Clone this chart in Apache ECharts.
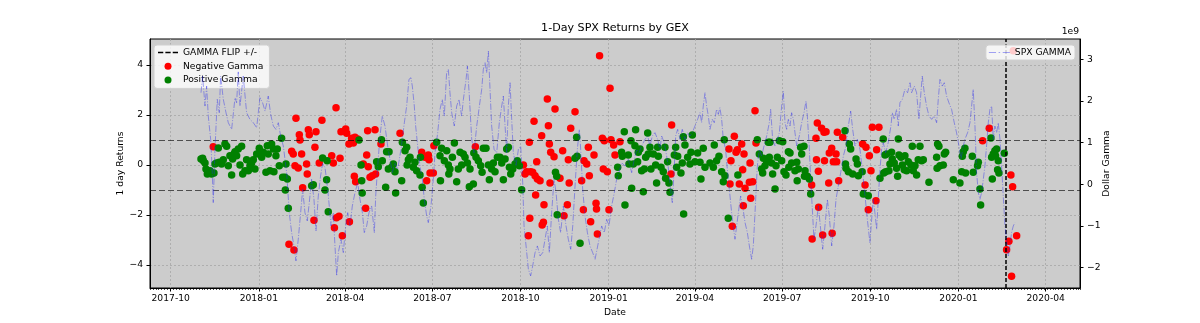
<!DOCTYPE html>
<html><head><meta charset="utf-8">
<script src="https://cdn.jsdelivr.net/npm/echarts@6/dist/echarts.min.js"></script>
<style>html,body{margin:0;padding:0;background:#fff}#c{width:1200px;height:323px}</style>
</head><body><div id="c"></div>
<script>
// ---------------- DATA ----------------
// x values are days counted from BASE_DATE (2017-10-01)
const BASE_DATE = '2017-10-01';
const GAMMA_FLIP_DATE = '2020-02-19';
const FLIP_LEVELS = [1, -1];
const X_TICK_LABELS = ['2017-10','2018-01','2018-04','2018-07','2018-10','2019-01','2019-04','2019-07','2019-10','2020-01','2020-04'];
const LEFT_TICKS = [-4, -2, 0, 2, 4];
const RIGHT_TICKS = [-2, -1, 0, 1, 2, 3];

// Negative Gamma days: [day, 1-day return %]
const negativeGamma = [
[44.4,0.73],[123.4,-3.17],[126.2,0.55],[127.9,0.44],[128.6,-3.40],[129.7,-0.03],[130.7,1.87],[133.1,-0.12],[134.2,1.21],[134.9,1.0],
[136.6,0.44],[137.7,-0.91],[141.8,0.04],[142.5,-0.36],[143.6,1.41],[144.6,1.21],[149.5,-2.21],[150.5,0.71],[151.6,1.33],[155.0,0.08],
[157.8,1.79],[168.0,0.37],[169.7,0.08],[170.8,-2.51],[172.5,2.29],[173.0,-2.11],[175.6,-2.05],[176.7,0.27],[177.7,1.33],[179.1,-2.83],
[182.6,1.44],[183.6,1.27],[186.0,0.84],[186.5,-2.27],[188.8,1.07],[190.6,0.88],[191.6,-0.45],[192.3,1.11],[193.0,-0.67],[195.1,1.04],
[201.0,0.04],[203.4,-1.73],[204.5,0.40],[205.5,1.37],[206.2,-0.07],[208.0,-0.49],[210.4,-0.43],[213.2,1.41],[213.8,-0.36],[219.4,0.84],
[239.3,1.27],[261.9,0.51],[265.3,0.31],[267.1,-0.63],[268.8,0.40],[269.5,0.21],[270.6,-0.32],[274.0,-0.32],[274.6,0.77],[317.9,0.73],
[368.0,0.0],[369.7,-0.36],[371.5,-0.27],[373.2,-2.83],[374.2,0.91],[374.7,-2.13],[375.4,-0.27],[377.7,-0.29],[379.1,1.75],[380.2,-0.43],
[380.8,-1.2],[381.9,0.13],[382.6,-0.56],[385.4,-0.63],[387.1,1.17],[387.6,-2.4],[388.9,-2.29],[389.5,-1.59],[393.0,2.64],[394.1,1.57],
[395.1,0.84],[395.8,-0.72],[396.5,0.51],[400.0,0.33],[401.0,2.24],[406.2,-0.53],[409.0,0.57],[410.4,-2.03],[413.9,-1.59],[414.9,0.21],
[415.8,-0.72],[417.4,1.47],[421.9,2.13],[428.8,-0.63],[430.6,-1.79],[431.3,0.17],[434.1,0.04],[435.8,0.71],[436.8,-0.43],[438.2,-2.27],
[441.7,0.40],[443.8,-1.53],[444.3,-1.76],[445.2,-2.76],[447.5,4.37],[450.4,1.07],[451.4,-0.16],[452.4,0.97],[455.6,-0.27],[457.3,-1.79],
[458.4,3.07],[459.4,1.01],[462.2,0.80],[463.6,0.40],[468.8,0.93],[522.0,-0.36],[522.7,1.60],[582.5,0.64],[583.6,-0.76],[584.6,0.17],
[586.0,-2.45],[588.1,1.15],[589.9,0.51],[591.3,0.61],[593.3,-0.76],[595.8,0.84],[596.8,-0.19],[597.5,-1.63],[598.2,0.44],[599.3,-0.93],
[603.8,-0.69],[604.5,0.08],[605.2,-1.33],[607.3,-0.67],[609.7,2.17],[610.7,0.88],[668.8,-0.80],[669.3,-2.96],[673.3,1.07],[673.8,0.21],
[674.7,1.68],[675.8,-0.25],[676.1,-1.69],[679.2,1.47],[680.3,-2.80],[681.7,1.31],[682.2,0.17],[683.8,1.33],[686.6,-0.72],[687.2,0.48],
[689.7,0.67],[690.2,-2.73],[691.4,0.13],[694.2,0.44],[694.9,0.13],[695.6,1.31],[697.0,-0.63],[701.2,1.11],[722.0,0.84],[724.5,-0.80],
[725.5,0.71],[727.9,-1.79],[729.0,0.37],[730.7,-0.23],[732.1,1.51],[735.9,-1.43],[736.6,0.61],[739.0,1.51],[847.2,0.97],[854.1,1.47],
[872.2,-3.39],[874.6,-3.05],[876.7,-0.40],[877.4,-4.45],[878.5,-0.87],[879.2,4.57],[882.7,-2.83]
];

// Positive Gamma days: [day, 1-day return %]
const positiveGamma = [
[31.6,0.24],[33.3,0.27],[34.0,0.17],[35.8,0.08],[36.8,-0.16],[38.2,-0.36],[39.6,-0.29],[41.0,-0.23],[42.7,-0.36],[45.1,-0.32],
[46.2,0.04],[47.9,0.08],[49.7,0.68],[50.7,0.11],[53.1,0.04],[54.9,0.21],[56.6,0.84],[58.4,0.75],[60.1,-0.03],[61.8,0.37],
[63.6,-0.40],[64.6,0.24],[66.0,0.44],[67.1,0.53],[68.8,0.37],[70.5,0.64],[72.3,0.0],[74.0,0.75],[75.1,-0.36],[77.5,-0.23],
[79.2,0.21],[81.0,-0.23],[82.7,-0.03],[84.4,0.08],[86.2,0.21],[87.9,-0.16],[89.7,0.44],[92.4,0.67],[94.9,0.31],[96.6,0.51],
[99.4,-0.29],[100.8,0.77],[101.8,0.44],[103.6,-0.23],[105.3,0.84],[107.1,0.64],[107.7,-0.27],[109.8,0.37],[111.2,0.64],[113.3,-0.03],
[115.7,1.07],[116.8,-0.49],[119.2,-0.49],[119.6,-1.0],[120.3,0.04],[121.7,-0.56],[122.7,-1.73],[147.1,-0.83],[148.8,-0.79],[158.5,0.28],
[161.0,-1.0],[162.7,-0.59],[163.2,0.17],[164.4,-1.87],[196.5,1.0],[198.6,0.0],[199.3,-0.63],[199.8,-1.12],[214.9,0.13],[216.6,-0.07],
[219.9,1.01],[220.8,0.17],[224.3,-0.89],[225.3,0.53],[227.1,-0.16],[227.8,0.53],[230.6,-0.09],[232.3,0.04],[234.0,-0.27],[234.7,-1.12],
[241.0,-0.63],[241.7,0.91],[244.5,0.57],[246.2,0.71],[246.7,0.0],[248.0,0.21],[249.7,0.31],[253.2,-0.09],[254.9,0.11],[256.6,-0.23],
[260.1,-0.40],[260.6,0.31],[262.4,-0.89],[263.6,-1.52],[277.5,0.91],[281.0,0.37],[281.5,-0.63],[282.7,0.67],[285.5,0.17],[288.0,0.57],
[289.7,0.0],[290.2,-0.36],[291.4,-0.16],[293.9,0.31],[296.0,0.88],[298.4,-0.67],[300.1,-0.16],[301.9,0.51],[303.6,0.0],[305.3,0.44],
[307.1,0.31],[309.6,0.08],[311.6,-0.87],[312.3,-0.16],[315.8,-0.76],[316.3,0.48],[318.6,0.31],[321.0,0.17],[323.5,-0.03],[324.9,-0.29],
[326.2,0.67],[329.0,0.67],[331.5,0.0],[332.5,-0.59],[334.9,-0.16],[336.7,0.08],[338.4,-0.27],[340.9,0.31],[343.6,0.31],[345.4,0.08],
[347.1,-0.59],[348.9,0.24],[350.6,0.64],[352.3,0.71],[353.4,-0.09],[354.8,-0.36],[356.9,-0.16],[359.3,0.04],[361.7,0.17],[363.8,-0.03],
[366.2,-0.99],[401.5,-0.29],[402.8,-0.45],[403.3,-1.99],[421.9,0.27],[423.6,1.11],[424.1,0.35],[427.1,-3.13],[466.4,-0.09],[467.0,-0.43],
[470.5,0.51],[471.2,0.35],[473.3,1.33],[474.0,-1.60],[477.5,0.40],[478.2,0.04],[480.3,0.97],[481.0,-0.93],[482.7,0.04],[484.4,0.77],
[485.1,1.41],[487.2,0.13],[487.9,0.51],[489.7,0.64],[491.4,-0.23],[493.1,-1.07],[494.2,-0.16],[495.6,0.31],[497.7,1.28],[498.3,0.44],
[500.1,0.71],[501.1,-0.16],[503.6,0.44],[506.0,0.0],[507.0,-0.72],[508.1,0.71],[508.8,0.35],[511.6,-0.09],[514.0,-0.27],[515.7,0.71],
[516.4,-0.53],[518.5,0.13],[519.9,-0.72],[521.0,-1.09],[525.5,0.40],[526.9,0.71],[527.9,-0.09],[529.0,0.35],[532.4,-0.32],[533.8,0.08],
[534.9,1.13],[535.2,-1.96],[536.6,0.80],[539.4,0.31],[541.8,0.04],[542.9,0.51],[544.3,1.20],[547.0,0.13],[549.8,0.48],[552.3,0.11],
[553.3,-0.56],[555.7,0.67],[557.5,-0.09],[562.7,0.08],[566.2,-0.09],[567.2,0.80],[569.6,0.17],[572.1,0.35],[574.9,-0.27],[576.6,-0.67],
[577.6,1.01],[578.3,-0.43],[581.8,-2.13],[591.8,-0.40],[612.1,1.01],[614.2,0.44],[616.6,-0.16],[617.7,-0.32],[618.4,0.27],[620.1,-0.03],
[621.9,0.13],[623.6,0.91],[624.6,0.31],[625.3,0.91],[627.1,0.08],[628.1,-0.36],[630.6,-0.96],[631.6,-0.03],[633.0,0.31],[635.1,0.97],
[637.5,0.17],[638.6,0.93],[639.9,-0.27],[642.0,-0.40],[644.5,0.53],[645.0,-0.09],[646.2,0.48],[647.9,0.08],[651.4,-0.23],[653.2,0.11],
[653.7,-0.63],[654.9,-0.16],[657.3,0.71],[658.4,0.44],[660.8,0.75],[661.3,-0.45],[661.9,-0.23],[664.3,-0.45],[666.4,-0.56],[667.8,-1.16],
[703.6,1.37],[704.1,0.04],[704.6,-0.13],[707.1,-0.27],[708.1,0.84],[709.5,0.64],[711.6,-0.36],[715.1,0.24],[716.5,0.04],[717.5,-0.43],
[721.5,-0.27],[722.7,-1.16],[727.9,-1.23],[740.1,-0.53],[743.5,1.04],[744.0,-0.32],[745.3,0.40],[746.0,-0.27],[747.0,0.44],[749.4,-0.23],
[750.5,0.04],[752.2,0.51],[752.9,0.24],[755.0,0.08],[757.4,-0.13],[758.5,-0.45],[759.2,1.04],[759.9,0.40],[762.0,0.31],[763.4,0.0],
[765.4,-0.19],[766.1,0.37],[767.9,-0.23],[769.6,0.13],[772.4,0.0],[773.8,0.75],[774.8,-0.23],[776.6,-0.03],[778.3,-0.40],[780.0,0.21],
[781.8,0.75],[783.5,0.17],[785.3,0.21],[791.2,-0.69],[799.2,0.31],[799.7,-0.13],[800.2,0.84],[801.6,0.75],[802.7,-0.03],[806.1,0.0],
[807.2,0.44],[808.6,0.51],[816.6,-0.59],[823.5,-0.72],[825.3,-0.27],[826.0,0.35],[827.0,0.53],[828.7,0.67],[829.4,-0.32],[836.4,0.35],
[837.4,-0.29],[841.9,-0.03],[842.7,0.11],[844.4,-0.96],[845.1,-1.60],[855.9,1.08],[856.6,0.31],[857.3,-0.56],[858.3,0.44],[860.0,0.57],
[860.7,0.37],[861.8,0.64],[862.8,-0.19],[863.5,0.17],[864.2,-0.32],[869.8,0.47]
];

// SPX GAMMA: [day, dollar gamma in units of 1e9]
const spxGamma = [
[31.6,2.2],[33.3,2.6],[35.8,1.88],[37.5,2.36],[39.2,1.64],[41.7,1.08],[43.1,0.44],[44.4,-0.44],[46.2,0.84],[48.6,2.04],
[50.7,1.72],[52.1,2.6],[54.9,2.04],[57.7,1.72],[60.1,1.48],[63.6,1.32],[67.1,2.08],[68.8,1.96],[70.5,2.7],[72.3,1.88],
[75.7,2.6],[79.2,1.72],[82.7,1.56],[86.2,1.48],[89.7,1.36],[93.1,2.08],[95.9,1.96],[98.4,1.76],[101.8,2.12],[104.3,1.68],
[107.1,1.4],[109.8,1.32],[112.3,1.48],[114.7,1.16],[117.5,0.92],[121.0,0.28],[123.7,-0.68],[126.2,-1.16],[128.6,-1.48],[130.7,-1.84],
[133.1,-1.32],[135.6,-0.68],[137.7,-0.12],[140.1,-0.68],[142.5,-0.88],[144.6,-0.44],[147.0,0.12],[149.5,-0.36],[151.6,-1.12],[154.0,-0.28],
[156.4,0.2],[158.5,0.5],[161.0,0.4],[162.7,0.1],[164.5,-0.28],[167.3,-1.0],[169.7,-0.68],[171.4,-1.48],[173.2,-2.2],[174.9,-1.64],
[177.7,-1.32],[180.1,-1.64],[182.6,-1.0],[184.7,-0.68],[187.1,-1.0],[189.5,-0.52],[192.3,-0.2],[195.1,0.04],[197.5,-0.36],[200.0,-0.68],
[202.0,-1.16],[204.5,-1.0],[206.9,-0.68],[209.7,-0.52],[212.5,-1.16],[213.9,-0.28],[216.0,0.44],[218.4,1.16],[220.8,1.64],[223.6,1.4],
[226.4,0.92],[228.8,0.6],[231.3,0.28],[234.0,0.52],[236.8,0.36],[240.3,0.84],[243.8,1.48],[246.2,1.88],[248.6,2.52],[250.7,2.56],
[252.1,2.36],[254.2,1.88],[255.6,1.4],[257.7,0.92],[260.1,0.44],[262.6,0.12],[264.6,-0.36],[267.1,-0.76],[268.8,-0.92],[271.6,-0.52],
[274.0,0.12],[275.8,0.76],[278.6,1.24],[281.0,1.8],[283.4,2.04],[285.5,1.64],[287.9,2.68],[289.7,2.76],[291.4,2.2],[293.2,1.72],
[295.9,1.4],[298.4,1.88],[300.8,2.04],[303.6,1.64],[305.4,2.04],[308.2,2.52],[309.6,2.84],[311.6,2.12],[314.1,1.08],[316.5,0.76],
[319.3,1.4],[322.1,1.88],[324.5,2.28],[326.2,2.76],[328.0,2.92],[329.7,2.68],[331.5,3.2],[333.2,2.28],[334.9,1.4],[337.4,0.84],
[340.2,0.76],[342.9,1.48],[345.4,1.88],[347.1,2.12],[348.9,1.4],[350.6,0.76],[352.3,1.88],[354.1,2.44],[355.8,1.56],[357.5,0.76],
[360.3,0.44],[362.8,0.84],[365.2,0.92],[367.3,0.04],[368.7,-1.0],[370.8,-1.48],[373.2,-2.04],[375.6,-2.2],[377.7,-1.96],[380.2,-1.64],
[382.6,-1.48],[385.4,-1.72],[388.2,-1.64],[390.6,-1.32],[393.0,-1.0],[395.1,-1.64],[397.5,-0.68],[400.0,0.12],[402.1,-0.2],[404.5,-0.84],
[406.9,-1.16],[409.7,-0.52],[412.5,-1.0],[414.9,-1.32],[417.4,-1.56],[419.5,-1.0],[421.9,-0.04],[424.3,0.84],[426.4,1.32],[427.8,0.84],
[429.9,-0.12],[432.3,-0.76],[434.8,-1.16],[437.5,-1.48],[440.3,-1.64],[442.8,-1.8],[446.9,-1.32],[449.7,-1.0],[452.4,-1.16],[454.9,-0.84],
[457.3,-1.0],[460.1,-0.52],[462.9,-0.2],[465.3,0.12],[467.7,0.28],[470.5,0.52],[474.0,0.44],[477.5,0.6],[481.0,0.28],[483.7,0.6],
[486.2,0.84],[488.6,0.76],[491.4,0.92],[494.9,1.08],[497.7,1.16],[500.1,0.92],[502.5,1.16],[505.3,1.24],[508.1,1.08],[510.5,0.84],
[512.3,1.16],[515.0,1.0],[517.5,0.68],[519.9,0.28],[522.0,-0.2],[523.4,-0.44],[525.5,0.44],[526.9,1.16],[529.0,1.32],[531.4,1.08],
[533.8,1.32],[536.6,1.08],[539.4,1.24],[541.8,1.16],[544.3,1.24],[547.0,1.4],[549.8,1.56],[552.3,1.72],[554.0,1.48],[555.7,1.88],
[557.5,2.2],[559.2,1.88],[561.0,1.64],[562.7,1.32],[565.1,1.56],[567.2,1.48],[569.6,1.8],[571.4,1.68],[573.1,1.84],[574.9,1.56],
[576.6,1.08],[579.0,0.84],[581.1,0.28],[583.6,-0.28],[585.3,-0.68],[587.0,-1.0],[588.8,-1.32],[592.3,-0.68],[594.7,-0.28],[596.8,-0.52],
[599.3,-0.92],[601.7,-1.16],[603.8,-1.48],[606.2,-1.8],[607.9,-1.48],[609.7,-0.68],[612.1,0.44],[614.2,0.84],[616.6,0.68],[619.1,0.92],
[621.9,1.16],[624.6,1.48],[626.0,1.8],[628.1,1.08],[630.6,0.92],[633.0,1.08],[635.1,1.24],[637.5,1.88],[639.2,2.24],[641.0,1.48],
[642.7,1.32],[644.5,1.56],[646.2,1.4],[647.9,1.72],[649.7,1.56],[651.4,1.24],[653.2,0.92],[655.9,1.16],[658.4,1.48],[660.8,1.72],
[662.9,2.0],[664.3,1.64],[666.4,0.84],[667.8,0.12],[669.9,-0.76],[671.2,-1.32],[673.3,-1.0],[675.8,-0.52],[678.2,-1.08],[680.3,-1.56],
[682.7,-1.0],[685.2,-0.36],[687.2,-0.76],[689.7,-1.48],[692.1,-1.0],[694.2,-0.36],[696.6,-0.04],[699.1,0.28],[701.9,0.68],[704.6,0.92],
[707.1,1.4],[709.5,1.76],[711.6,1.32],[714.0,0.92],[716.5,1.08],[719.2,0.84],[722.0,0.28],[724.5,-0.28],[726.9,-0.84],[729.6,-1.4],
[731.4,-0.84],[733.1,-0.36],[734.8,-0.68],[736.6,-1.08],[738.3,-0.36],[740.1,0.36],[741.8,0.84],[743.5,1.0],[746.0,0.76],[748.7,1.0],
[751.5,1.4],[752.9,1.72],[755.0,1.56],[757.4,1.8],[759.2,1.4],[760.9,1.96],[763.4,2.04],[766.1,2.28],[768.9,2.2],[771.4,2.44],
[773.1,2.2],[775.9,2.36],[778.3,2.2],[780.7,1.56],[782.8,2.2],[784.2,2.6],[786.3,2.2],[788.7,1.88],[791.2,1.64],[794.0,1.56],
[796.7,1.64],[799.2,1.48],[800.9,2.04],[802.7,2.52],[805.1,2.36],[807.2,2.44],[809.6,2.12],[812.0,1.96],[814.8,1.8],[817.6,1.48],
[820.0,1.24],[822.5,0.92],[824.6,0.6],[827.0,0.92],[828.7,1.08],[831.5,1.24],[834.0,1.48],[835.7,1.88],[837.4,2.28],[839.2,1.4],
[840.9,0.28],[842.7,-0.2],[844.4,-0.36],[846.1,-0.2],[847.9,0.12],[849.6,0.44],[851.3,0.92],[853.1,1.48],[854.8,1.8],[856.6,1.88],
[858.3,1.08],[860.0,1.4],[861.8,1.24],[863.5,1.48],[865.3,1.08],[867.0,0.44],[868.7,-0.28],[870.5,-1.0],[872.2,-1.32],[874.0,-1.72],
[875.7,-1.48],[877.4,-1.16],[879.2,-1.0],[880.9,-0.92]
];

// ---------------- CHART ----------------
const DAY = 86400000;
const parseDate = s => { const p = s.split('-').map(Number); return new Date(p[0], p[1] - 1, p[2] || 1).getTime(); };
const BASE = parseDate(BASE_DATE);
const toT = d => BASE + d * DAY;
const toPts = arr => arr.map(p => [toT(p[0]), p[1]]);
const xTicks = X_TICK_LABELS.map(parseDate);
const fmtMonth = v => { const d = new Date(v); return d.getFullYear() + '-' + String(d.getMonth() + 1).padStart(2, '0'); };
const fmtNum = v => (v < 0 ? '\u2212' + (-v) : String(v));

const FONT = 'DejaVu Sans';
const FS = 9.2;
const xMin = toT(-21.6), xMax = toT(948.8);
const gridLine = { show: true, lineStyle: { color: '#a6a6a6', width: 0.8, type: [2, 2] } };

const chart = echarts.init(document.getElementById('c'), null, { renderer: 'canvas' });
chart.setOption({
  animation: false,
  textStyle: { fontFamily: FONT },
  grid: { left: 150, right: 120, top: 39, bottom: 35, show: true, backgroundColor: '#cccccc', borderColor: '#000', borderWidth: 1, z: 0 },
  graphic: [
    { type: 'text', x: 615, y: 28, z: 10, style: { text: '1-Day SPX Returns by GEX', align: 'center', verticalAlign: 'middle', fontSize: 11.1, fontFamily: FONT, fill: '#000' } },
    { type: 'text', x: 1079, y: 32, z: 10, style: { text: '1e9', align: 'right', verticalAlign: 'middle', fontSize: FS, fontFamily: FONT, fill: '#000' } }
  ],
  legend: [
    {
      z: 4, left: 154, top: 45, orient: 'vertical',
      padding: [2, 6, 3, 4], itemGap: 2.7, itemWidth: 20, itemHeight: 7,
      backgroundColor: 'rgba(255,255,255,0.8)', borderColor: '#d0d0d0', borderWidth: 1, borderRadius: 3,
      textStyle: { fontSize: FS, fontFamily: FONT, color: '#000', lineHeight: 11 },
      data: [
        { name: 'GAMMA FLIP +/-', icon: 'path://M0,0h5v1.5h-5zM7,0h5v1.5h-5zM14,0h5v1.5h-5z' },
        { name: 'Negative Gamma', icon: 'circle' },
        { name: 'Positive Gamma', icon: 'circle' }
      ]
    },
    {
      z: 6, right: 125, top: 45, orient: 'vertical',
      padding: [2, 4, 2, 3], itemWidth: 21, itemHeight: 7,
      backgroundColor: 'rgba(255,255,255,0.8)', borderColor: '#d0d0d0', borderWidth: 1, borderRadius: 3,
      textStyle: { fontSize: FS, fontFamily: FONT, color: '#000', lineHeight: 11 },
      data: [{ name: 'SPX GAMMA', icon: 'path://M0,0h7v1.2h-7zM9.5,0h1.5v1.2h-1.5zM13.5,0h7v1.2h-7z' }]
    }
  ],
  xAxis: [
    {
      type: 'value', min: xMin, max: xMax, position: 'bottom', scale: true,
      name: 'Date', nameLocation: 'middle', nameGap: 20, nameMoveOverlap: false,
      nameTextStyle: { fontSize: FS, fontFamily: FONT, color: '#000' },
      axisLine: { show: true, onZero: false, lineStyle: { color: '#000', width: 1 } },
      axisTick: { show: true, customValues: xTicks, length: 3.5, lineStyle: { color: '#000', width: 1 } },
      axisLabel: { customValues: xTicks, formatter: fmtMonth, fontSize: FS, fontFamily: FONT, color: '#000', margin: 6 },
      splitLine: gridLine
    },
    {
      type: 'value', min: xMin, max: xMax, position: 'bottom', interval: 3 * DAY, scale: true,
      axisLine: { show: false, onZero: false }, axisLabel: { show: false }, splitLine: { show: false },
      axisTick: { show: true, length: 2, lineStyle: { color: 'rgba(0,0,0,0.7)', width: 1 } }
    }
  ],
  yAxis: [
    {
      type: 'value', position: 'left', min: -4.92, max: 5.04,
      name: '1 day Returns', nameLocation: 'middle', nameRotate: 90, nameGap: 25, nameMoveOverlap: false,
      nameTextStyle: { fontSize: FS, fontFamily: FONT, color: '#000' },
      axisLine: { show: true, onZero: false, lineStyle: { color: '#000', width: 1 } },
      axisTick: { show: true, customValues: LEFT_TICKS, length: 3.5, lineStyle: { color: '#000' } },
      axisLabel: { customValues: LEFT_TICKS, formatter: fmtNum, fontSize: FS, fontFamily: FONT, color: '#000', margin: 7 },
      splitLine: gridLine
    },
    {
      type: 'value', position: 'right', min: -2.49, max: 3.49,
      name: 'Dollar Gamma', nameLocation: 'middle', nameRotate: 90, nameGap: 22, nameMoveOverlap: false,
      nameTextStyle: { fontSize: FS, fontFamily: FONT, color: '#000' },
      axisLine: { show: true, onZero: false, lineStyle: { color: '#000', width: 1 } },
      axisTick: { show: true, customValues: RIGHT_TICKS, length: 3.5, lineStyle: { color: '#000' } },
      axisLabel: { customValues: RIGHT_TICKS, formatter: fmtNum, fontSize: FS, fontFamily: FONT, color: '#000', margin: 7 },
      splitLine: { show: false }
    }
  ],
  series: [
    {
      name: 'GAMMA FLIP +/-', type: 'line', data: [], z: 2, silent: true,
      itemStyle: { color: '#000' }, lineStyle: { color: '#000', type: 'dashed' },
      markLine: {
        silent: true, symbol: 'none', label: { show: false },
        data: FLIP_LEVELS.map(v => ({ yAxis: v, lineStyle: { color: 'rgba(0,0,0,0.62)', width: 1.2, type: [6, 3] } }))
          .concat([{ xAxis: parseDate(GAMMA_FLIP_DATE), lineStyle: { color: '#000', width: 1.5, type: [4, 2] } }])
      }
    },
    {
      name: 'Negative Gamma', type: 'scatter', data: toPts(negativeGamma), symbolSize: 7.5, z: 3,
      itemStyle: { color: '#ff0000', opacity: 1 }
    },
    {
      name: 'Positive Gamma', type: 'scatter', data: toPts(positiveGamma), symbolSize: 7.5, z: 3,
      itemStyle: { color: '#008000', opacity: 1 }
    },
    {
      name: 'SPX GAMMA', type: 'line', yAxisIndex: 1, data: toPts(spxGamma), z: 5,
      showSymbol: false, symbol: 'none', smooth: false,
      itemStyle: { color: 'rgba(40,40,235,0.42)' },
      lineStyle: { color: 'rgba(40,40,235,0.42)', width: 1, type: [6.4, 1.6, 1, 1.6] }
    }
  ]
});
</script></body></html>
